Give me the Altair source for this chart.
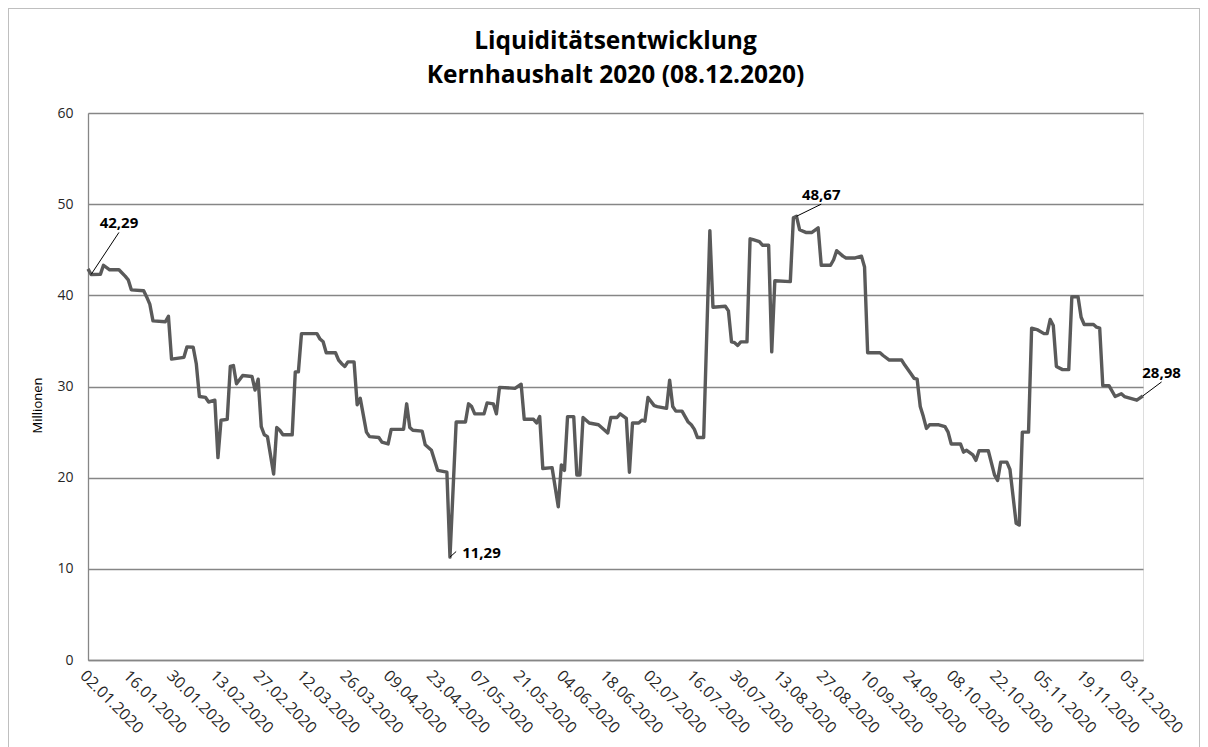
import altair as alt
import pandas as pd

# ---- data ----
dates = [
    "2020-01-02", "2020-01-03", "2020-01-06", "2020-01-07", "2020-01-09", "2020-01-12",
    "2020-01-14", "2020-01-15", "2020-01-16", "2020-01-20", "2020-01-21", "2020-01-22",
    "2020-01-23", "2020-01-27", "2020-01-28", "2020-01-29", "2020-02-02", "2020-02-03",
    "2020-02-05", "2020-02-06", "2020-02-07", "2020-02-09", "2020-02-10", "2020-02-12",
    "2020-02-13", "2020-02-14", "2020-02-16", "2020-02-17", "2020-02-18", "2020-02-19",
    "2020-02-21", "2020-02-24", "2020-02-25", "2020-02-26", "2020-02-27", "2020-02-28",
    "2020-02-29", "2020-03-02", "2020-03-03", "2020-03-04", "2020-03-05", "2020-03-08",
    "2020-03-09", "2020-03-10", "2020-03-11", "2020-03-16", "2020-03-17", "2020-03-18",
    "2020-03-19", "2020-03-22", "2020-03-23", "2020-03-24", "2020-03-25", "2020-03-26",
    "2020-03-28", "2020-03-29", "2020-03-30", "2020-04-01", "2020-04-02", "2020-04-05",
    "2020-04-06", "2020-04-08", "2020-04-09", "2020-04-13", "2020-04-14", "2020-04-15",
    "2020-04-16", "2020-04-19", "2020-04-20", "2020-04-21", "2020-04-22", "2020-04-24",
    "2020-04-27", "2020-04-28", "2020-04-30", "2020-05-03", "2020-05-04", "2020-05-05",
    "2020-05-06", "2020-05-09", "2020-05-10", "2020-05-12", "2020-05-13", "2020-05-14",
    "2020-05-19", "2020-05-21", "2020-05-22", "2020-05-25", "2020-05-26", "2020-05-27",
    "2020-05-28", "2020-05-31", "2020-06-02", "2020-06-03", "2020-06-04", "2020-06-05",
    "2020-06-07", "2020-06-08", "2020-06-09", "2020-06-10", "2020-06-12", "2020-06-15",
    "2020-06-18", "2020-06-19", "2020-06-21", "2020-06-22", "2020-06-24", "2020-06-25",
    "2020-06-26", "2020-06-28", "2020-06-29", "2020-06-30", "2020-07-01", "2020-07-03",
    "2020-07-04", "2020-07-07", "2020-07-08", "2020-07-09", "2020-07-10", "2020-07-12",
    "2020-07-14", "2020-07-15", "2020-07-16", "2020-07-17", "2020-07-19", "2020-07-21",
    "2020-07-22", "2020-07-26", "2020-07-27", "2020-07-28", "2020-07-29", "2020-07-30",
    "2020-07-31", "2020-08-02", "2020-08-03", "2020-08-04", "2020-08-06", "2020-08-07",
    "2020-08-09", "2020-08-10", "2020-08-11", "2020-08-16", "2020-08-17", "2020-08-18",
    "2020-08-19", "2020-08-21", "2020-08-23", "2020-08-25", "2020-08-26", "2020-08-29",
    "2020-08-30", "2020-08-31", "2020-09-02", "2020-09-03", "2020-09-06", "2020-09-08",
    "2020-09-09", "2020-09-10", "2020-09-14", "2020-09-15", "2020-09-17", "2020-09-21",
    "2020-09-22", "2020-09-24", "2020-09-25", "2020-09-26", "2020-09-27", "2020-09-28",
    "2020-09-29", "2020-09-30", "2020-10-03", "2020-10-05", "2020-10-06", "2020-10-07",
    "2020-10-10", "2020-10-11", "2020-10-12", "2020-10-14", "2020-10-15", "2020-10-16",
    "2020-10-19", "2020-10-21", "2020-10-22", "2020-10-23", "2020-10-25", "2020-10-26",
    "2020-10-28", "2020-10-29", "2020-10-30", "2020-11-01", "2020-11-02", "2020-11-04",
    "2020-11-06", "2020-11-07", "2020-11-08", "2020-11-09", "2020-11-10", "2020-11-12",
    "2020-11-14", "2020-11-15", "2020-11-17", "2020-11-18", "2020-11-19", "2020-11-22",
    "2020-11-23", "2020-11-24", "2020-11-25", "2020-11-27", "2020-11-29", "2020-12-01",
    "2020-12-02", "2020-12-06", "2020-12-08",
]
values = [
    42.9, 42.29, 42.3, 43.3, 42.8, 42.8,
    42.1, 41.7, 40.6, 40.5, 39.8, 39.0,
    37.2, 37.1, 37.7, 33.0, 33.2, 34.35,
    34.3, 32.5, 28.9, 28.8, 28.3, 28.5,
    22.2, 26.3, 26.4, 32.2, 32.3, 30.3,
    31.2, 31.1, 29.6, 30.8, 25.6, 24.7,
    24.5, 20.4, 25.5, 25.2, 24.7, 24.7,
    31.6, 31.6, 35.8, 35.8, 35.2, 34.9,
    33.7, 33.7, 32.9, 32.5, 32.2, 32.7,
    32.7, 28.0, 28.7, 25.0, 24.5, 24.4,
    23.9, 23.7, 25.3, 25.3, 28.1, 25.5,
    25.2, 25.1, 23.6, 23.3, 23.0, 20.8,
    20.6, 11.29, 26.1, 26.1, 28.1, 27.8,
    27.0, 27.0, 28.2, 28.1, 27.0, 29.9,
    29.8, 30.25, 26.4, 26.4, 26.0, 26.7,
    21.0, 21.1, 16.8, 21.4, 20.8, 26.7,
    26.7, 20.3, 20.3, 26.6, 26.0, 25.8,
    24.9, 26.6, 26.6, 27.0, 26.5, 20.6,
    26.0, 26.0, 26.3, 26.2, 28.8, 27.9,
    27.8, 27.6, 30.7, 27.8, 27.3, 27.3,
    26.1, 25.8, 25.3, 24.4, 24.4, 47.1,
    38.7, 38.8, 38.3, 34.9, 34.8, 34.5,
    34.9, 34.9, 46.2, 46.1, 45.9, 45.5,
    45.5, 33.8, 41.6, 41.5, 48.5, 48.67,
    47.2, 46.9, 46.9, 47.4, 43.3, 43.3,
    43.9, 44.9, 44.3, 44.1, 44.1, 44.3,
    43.1, 33.7, 33.7, 33.4, 32.9, 32.9,
    32.35, 31.4, 30.9, 30.8, 27.8, 26.7,
    25.4, 25.8, 25.8, 25.6, 25.0, 23.7,
    23.7, 22.8, 23.0, 22.5, 21.9, 22.95,
    22.95, 20.3, 19.7, 21.7, 21.7, 20.9,
    15.0, 14.8, 25.0, 25.0, 36.4, 36.2,
    35.8, 35.8, 37.35, 36.7, 32.2, 31.85,
    31.85, 39.85, 39.85, 37.6, 36.8, 36.8,
    36.5, 36.4, 30.1, 30.1, 28.9, 29.2,
    28.9, 28.5, 28.98,
]

tick_dates = [
    "2020-01-02", "2020-01-16", "2020-01-30", "2020-02-13", "2020-02-27", "2020-03-12",
    "2020-03-26", "2020-04-09", "2020-04-23", "2020-05-07", "2020-05-21", "2020-06-04",
    "2020-06-18", "2020-07-02", "2020-07-16", "2020-07-30", "2020-08-13", "2020-08-27",
    "2020-09-10", "2020-09-24", "2020-10-08", "2020-10-22", "2020-11-05", "2020-11-19",
    "2020-12-03",
]
y_ticks = [0, 10, 20, 30, 40, 50, 60]

# annotations: point, end of leader line, label text
ann_point_dates = ["2020-01-03", "2020-04-28", "2020-08-18", "2020-12-08"]
ann_point_values = [42.29, 11.29, 48.67, 28.98]
ann_end_dates = ["2020-01-12", "2020-04-30", "2020-08-26", "2020-12-14"]
ann_end_values = [46.9, 11.9, 50.0, 30.5]
ann_labels = ["42,29", "11,29", "48,67", "28,98"]

title_lines = ["Liquiditätsentwicklung", "Kernhaushalt 2020 (08.12.2020)"]

FONT = "Open Sans"
W, H = 1055, 547


def to_dt(s):
    return pd.to_datetime(s)


df = pd.DataFrame({"Datum": [to_dt(d) for d in dates], "Wert": values})
ann = pd.DataFrame({
    "d0": [to_dt(d) for d in ann_point_dates],
    "v0": ann_point_values,
    "d1": [to_dt(d) for d in ann_end_dates],
    "v1": ann_end_values,
    "label": ann_labels,
})

x_scale = alt.Scale(domain=[alt.DateTime(year=2020, month=1, date=2),
                            alt.DateTime(year=2020, month=12, date=8)], nice=False)
y_scale = alt.Scale(domain=[0, 60], nice=False)

x_axis = alt.Axis(
    values=[alt.DateTime(year=int(t[:4]), month=int(t[5:7]), date=int(t[8:10])) for t in tick_dates],
    labelExpr="timeFormat(datum.value, '%d.%m.%Y')",
    labelAngle=45, labelFont=FONT, labelFontSize=16, labelColor="#262626",
    labelPadding=7, ticks=False, grid=False, domainColor="#868686", domainWidth=1.3,
    title=None, labelOverlap=False, labelBound=False, labelFlush=False,
)
y_axis = alt.Axis(
    values=y_ticks, labelFont=FONT, labelFontSize=14, labelColor="#262626",
    labelPadding=15, ticks=False, grid=True, gridColor="#868686", gridWidth=1.3,
    domainColor="#868686", domainWidth=1.3,
    title="Millionen", titleFont=FONT, titleFontSize=13, titleFontWeight="normal",
    titleColor="#000000", titlePadding=12, titleY=292,
)

line = alt.Chart(df).mark_line(color="#5a5a5a", strokeWidth=3.4, strokeJoin="round").encode(
    x=alt.X("Datum:T", scale=x_scale, axis=x_axis),
    y=alt.Y("Wert:Q", scale=y_scale, axis=y_axis),
)

leaders = alt.Chart(ann).mark_rule(color="#000000", strokeWidth=1).encode(
    x=alt.X("d0:T", scale=x_scale), y=alt.Y("v0:Q", scale=y_scale),
    x2="d1:T", y2="v1:Q",
)

label_style = dict(font=FONT, fontSize=15, fontWeight="bold", color="#000000")
labels_top = alt.Chart(ann).transform_filter(alt.datum.label != "11,29").mark_text(
    baseline="bottom", align="center", dy=-1, **label_style
).encode(x=alt.X("d1:T", scale=x_scale), y=alt.Y("v1:Q", scale=y_scale), text="label:N")

labels_right = alt.Chart(ann).transform_filter(alt.datum.label == "11,29").mark_text(
    baseline="middle", align="left", dx=6, dy=1, **label_style
).encode(x=alt.X("d1:T", scale=x_scale), y=alt.Y("v1:Q", scale=y_scale), text="label:N")

frame = alt.Chart(ann).mark_rect(filled=False, stroke="#bfbfbf", strokeWidth=1).encode(
    x=alt.value(-79.5), x2=alt.value(1111.5), y=alt.value(-104.5), y2=alt.value(660)
)

chart = alt.layer(frame, line, leaders, labels_top, labels_right).properties(
    width=W, height=H,
    title=alt.TitleParams(
        text=title_lines, font=FONT, fontSize=24.5, fontWeight="bold", color="#000000",
        anchor="middle", offset=-80, lineHeight=34,
    ),
    padding={"left": 80, "top": 105, "right": 57, "bottom": 87},
    autosize=alt.AutoSizeParams(type="none"),
).configure_view(stroke=None).configure(background="white")

chart.save("out.html", embed_options={"renderer": "svg", "actions": False})
